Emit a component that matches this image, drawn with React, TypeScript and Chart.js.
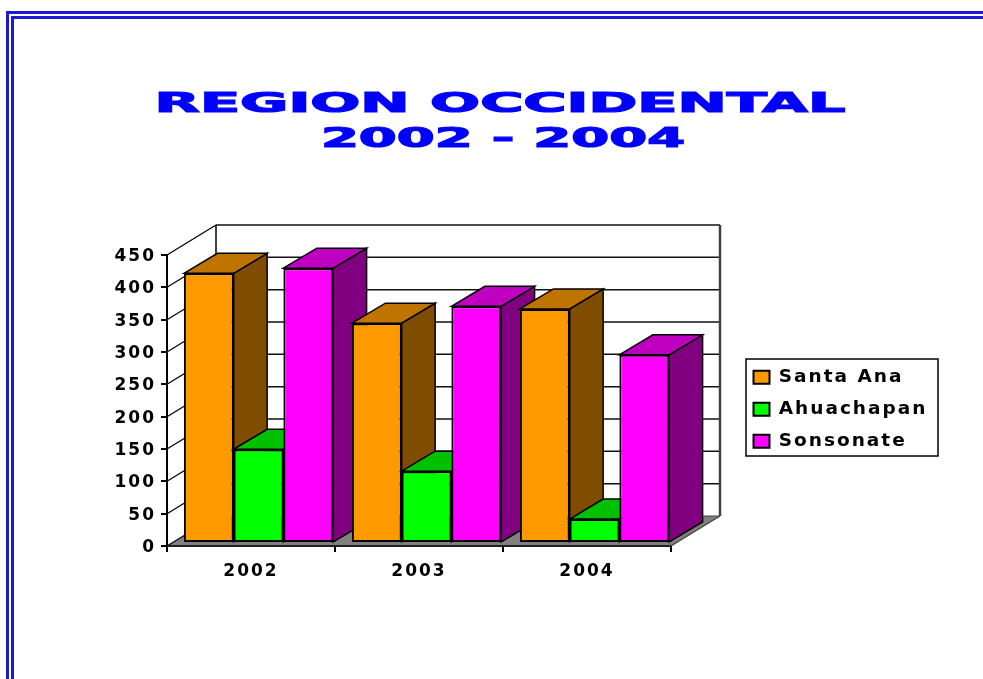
import React, { useEffect, useRef } from "react";
import { Chart, registerables } from "chart.js";

Chart.register(...registerables);

const categories = ["2002", "2003", "2004"];
const santaAna = [417, 340, 362];
const ahuachapan = [145, 111, 37];
const sonsonate = [425, 366, 291];
const titleLines = ["REGION OCCIDENTAL", "2002 - 2004"];

const FRONT = { santa: "#ff9900", ahua: "#00ff00", sons: "#ff00ff" };
const TOP: Record<string, string> = { "#ff9900": "#c07400", "#00ff00": "#00c000", "#ff00ff": "#c000c0" };
const SIDE: Record<string, string> = { "#ff9900": "#7f4c00", "#00ff00": "#008000", "#ff00ff": "#800080" };

const WALL_DX = 49;
const WALL_DY = -30;
const BAR_OFF_X = 7.5;
const BAR_OFF_Y = -3;
const BAR_DX = 33.5;
const BAR_DY = -20;
const LETTER = "2px";

function poly(ctx: CanvasRenderingContext2D, pts: number[][], fill: string | null, stroke: string | null, lw = 1.5) {
  ctx.beginPath();
  pts.forEach((p, i) => (i ? ctx.lineTo(p[0], p[1]) : ctx.moveTo(p[0], p[1])));
  ctx.closePath();
  if (fill) {
    ctx.fillStyle = fill;
    ctx.fill();
  }
  if (stroke) {
    ctx.strokeStyle = stroke;
    ctx.lineWidth = lw;
    ctx.stroke();
  }
}

function seg(ctx: CanvasRenderingContext2D, x1: number, y1: number, x2: number, y2: number, color: string, lw: number) {
  ctx.beginPath();
  ctx.moveTo(x1, y1);
  ctx.lineTo(x2, y2);
  ctx.strokeStyle = color;
  ctx.lineWidth = lw;
  ctx.stroke();
}

const threeD = {
  id: "threeD",
  beforeUpdate(chart: any) {
    chart.ctx.letterSpacing = LETTER;
  },
  beforeDraw(chart: any) {
    const ctx = chart.ctx;
    ctx.letterSpacing = LETTER;
    ctx.save();
    ctx.fillStyle = "#ffffff";
    ctx.fillRect(746, 359, 192, 97);
    ctx.strokeStyle = "#000000";
    ctx.lineWidth = 1.5;
    ctx.strokeRect(746, 359, 192, 97);
    ctx.restore();
  },
  afterLayout(chart: any) {
    const l = chart.legend;
    l.left = 740;
    l.right = 945;
    l.top = 354.5;
    l.bottom = 480;
  },
  beforeDatasetsDraw(chart: any) {
    const ctx = chart.ctx;
    const { left, right, top, bottom } = chart.chartArea;
    const yScale = chart.scales.y;
    ctx.save();

    // floor
    poly(
      ctx,
      [
        [left, bottom],
        [right, bottom],
        [right + WALL_DX, bottom + WALL_DY],
        [left + WALL_DX, bottom + WALL_DY],
      ],
      "#808080",
      null
    );
    // grid on the side wall and back wall
    yScale.ticks.forEach((t: any) => {
      const y = yScale.getPixelForValue(t.value);
      seg(ctx, left, y, left + WALL_DX, y + WALL_DY, "#000000", 1.2);
      if (t.value > 0) seg(ctx, left + WALL_DX, y + WALL_DY, right + WALL_DX, y + WALL_DY, "#111111", 1.5);
    });
    seg(ctx, left + WALL_DX, top + WALL_DY, left + WALL_DX, bottom + WALL_DY, "#000000", 1.5);
    seg(ctx, right + WALL_DX, top + WALL_DY, right + WALL_DX, bottom + WALL_DY, "#404040", 2.5);
    seg(ctx, left, bottom, right, bottom, "#202020", 2);
    seg(ctx, right, bottom, right + WALL_DX, bottom + WALL_DY, "#404040", 1.2);
    seg(ctx, left + WALL_DX, bottom + WALL_DY, right + WALL_DX, bottom + WALL_DY, "#404040", 1);

    // bars, left to right, so nearer sides hide what they should
    ctx.translate(BAR_OFF_X, BAR_OFF_Y);
    categories.forEach((_, i) => {
      chart.data.datasets.forEach((ds: any, d: number) => {
        const el = chart.getDatasetMeta(d).data[i];
        const { x, y, width, base } = el.getProps(["x", "y", "width", "base"], true);
        const l = x - width / 2;
        const r = x + width / 2;
        const c = ds.backgroundColor;
        poly(
          ctx,
          [
            [r, y],
            [r + BAR_DX, y + BAR_DY],
            [r + BAR_DX, base + BAR_DY],
            [r, base],
          ],
          SIDE[c],
          "#000000"
        );
        poly(
          ctx,
          [
            [l, y],
            [l + BAR_DX, y + BAR_DY],
            [r + BAR_DX, y + BAR_DY],
            [r, y],
          ],
          TOP[c],
          "#000000"
        );
        el.draw(ctx);
      });
    });
    ctx.restore();
    return false;
  },
};

const titleStyle = (center: number, top: number, scale: number): React.CSSProperties => ({
  position: "absolute",
  left: center - 500,
  top,
  width: 1000,
  height: 30,
  lineHeight: "30px",
  textAlign: "center",
  whiteSpace: "nowrap",
  fontFamily: '"DejaVu Sans", sans-serif',
  fontWeight: 700,
  fontSize: 27,
  color: "#0000ff",
  WebkitTextStroke: "1.2px #0000ff",
  transform: `scaleX(${scale})`,
  transformOrigin: "center",
});

export default function App() {
  const ref = useRef<HTMLCanvasElement>(null);

  useEffect(() => {
    const tickFont = { family: '"DejaVu Sans", sans-serif', size: 17, weight: "bold" as const };
    const common = {
      borderColor: "#000000",
      borderWidth: 2,
      borderSkipped: false,
      categoryPercentage: 0.888,
      barPercentage: 1,
    };
    const chart = new Chart(ref.current!, {
      type: "bar",
      data: {
        labels: categories,
        datasets: [
          { label: "Santa Ana", data: santaAna, backgroundColor: FRONT.santa, ...common },
          { label: "Ahuachapan", data: ahuachapan, backgroundColor: FRONT.ahua, ...common },
          { label: "Sonsonate", data: sonsonate, backgroundColor: FRONT.sons, ...common },
        ],
      },
      options: {
        responsive: false,
        animation: false,
        layout: { padding: { left: 0, top: 255, right: 212, bottom: 0 } },
        plugins: {
          title: { display: false },
          tooltip: { enabled: false },
          legend: {
            position: "right",
            align: "start",
            maxWidth: 100,
            labels: {
              boxWidth: 16,
              boxHeight: 13,
              padding: 13.5,
              color: "#000000",
              font: { family: '"DejaVu Sans", sans-serif', size: 18.5, weight: "bold" },
            },
          },
        },
        scales: {
          x: {
            afterFit: (s: any) => {
              s.height = 133;
            },
            border: { color: "#000000", width: 2 },
            grid: { drawOnChartArea: false, drawTicks: true, tickLength: 6, color: "#000000", lineWidth: 2 },
            ticks: { color: "#000000", font: tickFont, padding: 9, maxRotation: 0 },
          },
          y: {
            min: 0,
            max: 450,
            afterFit: (s: any) => {
              s.width = 167;
            },
            border: { color: "#000000", width: 2 },
            grid: { drawOnChartArea: false, drawTicks: true, tickLength: 6, color: "#000000", lineWidth: 2 },
            ticks: { stepSize: 50, color: "#000000", font: tickFont, padding: 5, labelOffset: 1.5 },
          },
        },
      } as any,
      plugins: [threeD as any],
    });
    return () => chart.destroy();
  }, []);

  return (
    <div style={{ position: "fixed", left: 0, top: 0, width: 983, height: 679, overflow: "hidden", background: "#fff" }}>
      <div
        style={{
          position: "absolute",
          left: 6,
          top: 11,
          width: 2000,
          height: 2000,
          border: "8px double #1a1ad6",
          filter: "blur(0.4px)",
        }}
      />
      <canvas
        ref={ref}
        width={983}
        height={679}
        style={{ position: "absolute", left: 0, top: 0, filter: "blur(0.5px)" }}
      />
      <div style={titleStyle(499.5, 88, 2.18)}>{titleLines[0]}</div>
      <div style={titleStyle(502.5, 122.5, 2.02)}>{titleLines[1]}</div>
    </div>
  );
}
